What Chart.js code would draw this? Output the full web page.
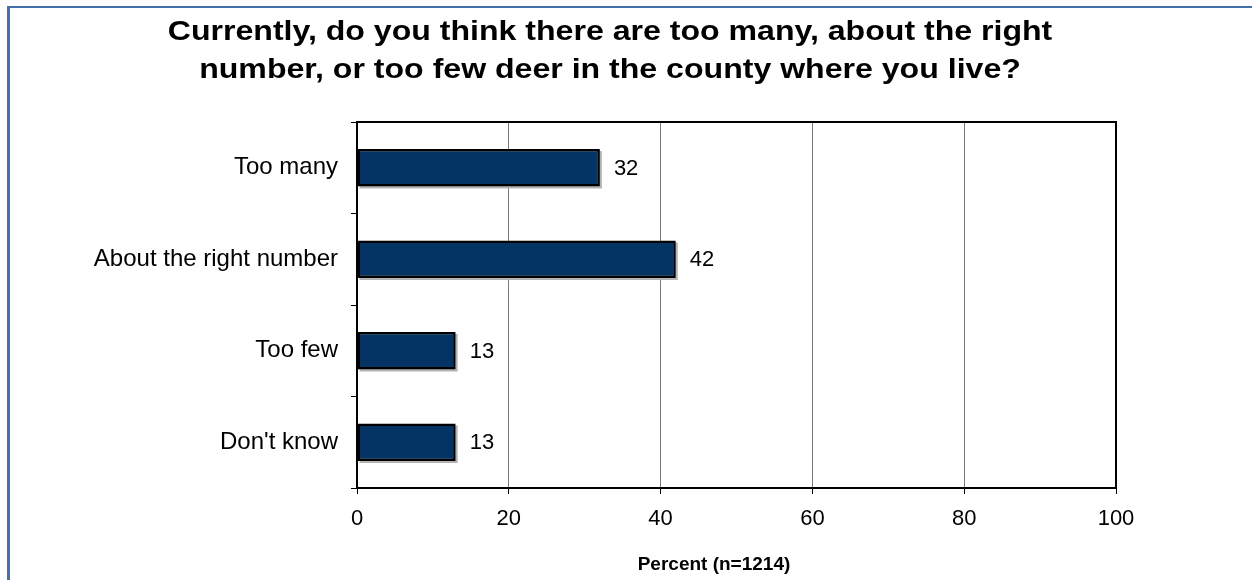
<!DOCTYPE html>
<html>
<head>
<meta charset="utf-8">
<script src="https://cdn.jsdelivr.net/npm/chart.js@4"></script>
<style>
  html, body { margin: 0; padding: 0; background: #ffffff; }
  #wrap { position: relative; width: 1252px; height: 580px; overflow: hidden; }
  #frame { position: absolute; left: 7px; top: 6px; width: 1300px; height: 700px;
           border-left: 3px solid #4670aa; border-top: 2px solid #4670aa; pointer-events: none; }
  canvas { position: absolute; left: 0; top: 0; }
</style>
</head>
<body>
<div id="wrap">
  <canvas id="c" width="1252" height="580"></canvas>
  <div id="frame"></div>
</div>
<script>
const titleLines = ["Currently, do you think there are too many, about the right",
                    "number, or too few deer in the county where you live?"];
const categories = ["Too many", "About the right number", "Too few", "Don't know"];
const percents = [32, 42, 13, 13];
const xTicks = [0, 20, 40, 60, 80, 100];
const xAxisTitle = "Percent (n=1214)";

const FONT = "Arial, 'Liberation Sans', sans-serif";

const decorations = {
  id: 'decorations',
  beforeDatasetsDraw(chart) {
    // faint drop shadow under each bar
    const ctx = chart.ctx;
    const meta = chart.getDatasetMeta(0);
    ctx.save();
    ctx.fillStyle = '#b4b4b4';
    meta.data.forEach(bar => {
      const p = bar.getProps(['x', 'y', 'base', 'height'], true);
      ctx.fillRect(p.base + 2, p.y - p.height / 2 + 2, p.x - p.base, p.height);
    });
    ctx.restore();
  },
  afterDatasetsDraw(chart) {
    const ctx = chart.ctx;
    const a = chart.chartArea;
    ctx.save();
    // top and right frame of the plot area
    ctx.strokeStyle = '#000000';
    ctx.lineWidth = 2;
    ctx.beginPath();
    ctx.moveTo(a.left, a.top);
    ctx.lineTo(a.right, a.top);
    ctx.lineTo(a.right, a.bottom);
    ctx.stroke();
    // value labels
    const meta = chart.getDatasetMeta(0);
    ctx.fillStyle = '#000000';
    ctx.font = "22px " + FONT;
    ctx.textAlign = 'left';
    ctx.textBaseline = 'middle';
    meta.data.forEach((bar, i) => {
      ctx.fillText(String(chart.data.datasets[0].data[i]), bar.x + 14, bar.y + 1);
    });
    ctx.restore();
  },
  afterDraw(chart) {
    const ctx = chart.ctx;
    ctx.save();
    ctx.fillStyle = '#000000';
    // chart title (horizontally widened like the reference)
    ctx.font = "bold 27px " + FONT;
    ctx.textAlign = 'center';
    ctx.textBaseline = 'alphabetic';
    const baselines = [40, 78];
    titleLines.forEach((line, i) => {
      ctx.save();
      ctx.translate(610, baselines[i]);
      ctx.scale(1.188, 1);
      ctx.fillText(line, 0, 0);
      ctx.restore();
    });
    // x axis title
    ctx.font = "bold 19px " + FONT;
    ctx.textBaseline = 'middle';
    ctx.fillText(xAxisTitle, 714, 565);
    ctx.restore();
  }
};

new Chart(document.getElementById('c'), {
  type: 'bar',
  data: {
    labels: categories,
    datasets: [{
      data: percents,
      backgroundColor: '#033464',
      borderColor: '#000000',
      borderWidth: 2.5,
      borderSkipped: false,
      categoryPercentage: 1.0,
      barPercentage: 0.41
    }]
  },
  options: {
    indexAxis: 'y',
    responsive: false,
    animation: false,
    devicePixelRatio: 1,
    layout: { padding: { left: 0, right: 136, top: 122, bottom: 0 } },
    plugins: {
      legend: { display: false },
      tooltip: { enabled: false },
      title: { display: false }
    },
    scales: {
      x: {
        type: 'linear',
        min: 0,
        max: 100,
        afterBuildTicks(scale) { scale.ticks = xTicks.map(v => ({ value: v })); },
        afterFit(scale) { scale.height = 92; },
        grid: {
          color: '#7a7a7a',
          lineWidth: 1,
          drawTicks: true,
          tickLength: 6,
          tickColor: '#000000'
        },
        border: { color: '#000000', width: 2 },
        ticks: {
          color: '#000000',
          font: { family: FONT, size: 22 },
          padding: 12,
          maxRotation: 0
        },
        title: { display: false }
      },
      y: {
        afterFit(scale) { scale.width = 357; },
        grid: {
          offset: true,
          drawOnChartArea: false,
          drawTicks: true,
          tickLength: 6,
          tickColor: '#000000',
          lineWidth: 1
        },
        border: { color: '#000000', width: 2 },
        ticks: {
          color: '#000000',
          font: { family: FONT, size: 24 },
          padding: 13
        }
      }
    }
  },
  plugins: [decorations]
});
</script>
</body>
</html>
